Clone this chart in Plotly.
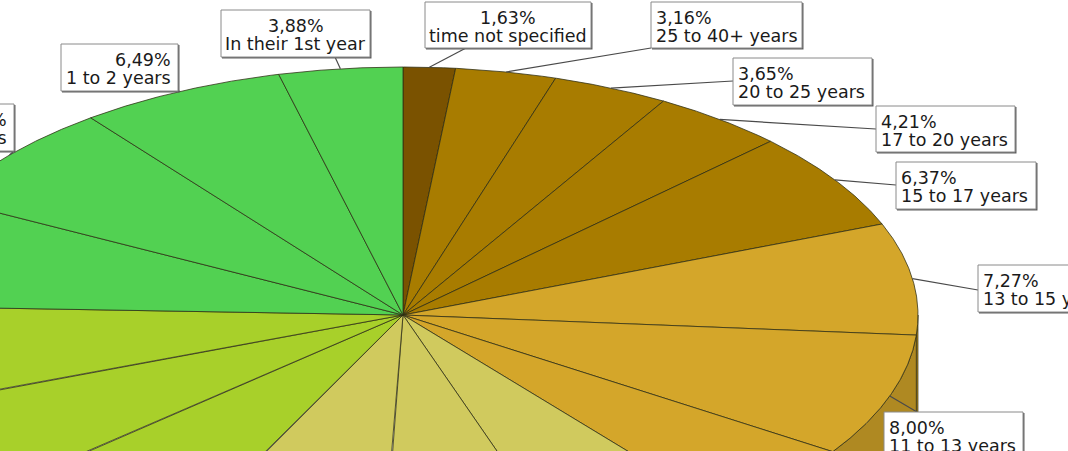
import numpy as np
import plotly.graph_objects as go

# Share of respondents by time spent in the country (clockwise from 12 o'clock)
categories = [
    "time not specified", "25 to 40+ years", "20 to 25 years", "17 to 20 years",
    "15 to 17 years", "13 to 15 years", "11 to 13 years", "10 to 11 years",
    "9 to 10 years", "8 to 9 years", "7 to 8 years", "6 to 7 years",
    "5 to 6 years", "4 to 5 years", "3 to 4 years", "2 to 3 years",
    "1 to 2 years", "In their 1st year",
]
values = [1.63, 3.16, 3.65, 4.21, 6.37, 7.27, 8.00, 5.02, 5.58, 5.69,
          6.56, 6.19, 5.81, 6.42, 7.13, 6.94, 6.49, 3.88]
colors = ["#7a5200", "#a87c00", "#a87c00", "#a87c00", "#a87c00",
          "#d4a62a", "#d4a62a", "#d4a62a",
          "#d0ca5e", "#d0ca5e", "#d0ca5e",
          "#a8d02a", "#a8d02a", "#a8d02a",
          "#52d152", "#52d152", "#52d152", "#52d152"]

# ---- page geometry (pixels) ----
W, H = 1068, 451
CX, CY = 403, 315        # pie centre
RX, RY = 515, 248        # on-screen radii of the tilted pie
DEPTH = 100              # thickness of the pie's side wall


def px_x(p):
    return (p - CX) / RX


def px_y(p):
    return (CY - p) / RY


def darker(hex_color, f=0.83):
    h = hex_color.lstrip("#")
    r, g, b = (int(h[i:i + 2], 16) for i in (0, 2, 4))
    return "rgb(%d,%d,%d)" % (r * f, g * f, b * f)


# ---- slice angles (radians, clockwise from the top) ----
vals = np.array(values, dtype=float)
frac = vals / vals.sum()
ends = np.cumsum(frac) * 2 * np.pi
starts = ends - frac * 2 * np.pi
depth_u = DEPTH / RY

fig = go.Figure()
edge = "rgba(45,45,20,0.85)"

# side wall (front half of the pie only)
for a0, a1, c in zip(starts, ends, colors):
    lo, hi = max(a0, np.pi / 2), min(a1, 3 * np.pi / 2)
    if lo >= hi:
        continue
    t = np.linspace(lo, hi, 80)
    xs = np.concatenate([np.sin(t), np.sin(t[::-1])])
    ys = np.concatenate([np.cos(t), np.cos(t[::-1]) - depth_u])
    fig.add_trace(go.Scatter(x=np.append(xs, xs[0]), y=np.append(ys, ys[0]),
                             mode="lines", fill="toself", fillcolor=darker(c),
                             line=dict(color=edge, width=0.8),
                             hoverinfo="skip", showlegend=False))

# top face of each slice
for name, v, a0, a1, c in zip(categories, values, starts, ends, colors):
    t = np.linspace(a0, a1, 120)
    xs = np.concatenate([[0], np.sin(t), [0]])
    ys = np.concatenate([[0], np.cos(t), [0]])
    fig.add_trace(go.Scatter(x=xs, y=ys, mode="lines", fill="toself",
                             fillcolor=c, line=dict(color=edge, width=0.9),
                             name=name, hovertemplate=f"{name}: {v:.2f}%<extra></extra>",
                             showlegend=False))

# ---- label boxes: [x0, y0, x1, y1] in pixels, text alignment, leader attach point ----
boxes = {
    "In their 1st year": ([221, 10, 370, 57], "center", (335, 57)),
    "time not specified": ([425, 2, 591, 48], "center", (466, 48)),
    "25 to 40+ years": ([651, 2, 802, 48], "left", (651, 48)),
    "20 to 25 years": ([733, 58, 872, 105], "left", (733, 81)),
    "17 to 20 years": ([876, 106, 1015, 152], "left", (876, 129)),
    "15 to 17 years": ([896, 162, 1036, 209], "left", (896, 185)),
    "13 to 15 years": ([978, 265, 1090, 312], "left", (978, 290)),
    "11 to 13 years": ([884, 412, 1023, 470], "left", (917, 412)),
    "1 to 2 years": ([61, 44, 178, 91], "right", (178, 91)),
    "2 to 3 years": ([-110, 104, 14, 151], "right", (14, 151)),
}

shapes, annotations = [], []
font = dict(family="DejaVu Sans", size=17.5, color="#1a1a1a")
for name, v, a0, a1 in zip(categories, values, starts, ends):
    if name not in boxes:
        continue
    (x0, y0, x1, y1), align, (ax_, ay_) = boxes[name]
    mid = (a0 + a1) / 2
    # leader line from the slice's rim to its box
    fig.add_trace(go.Scatter(x=[np.sin(mid), px_x(ax_)], y=[np.cos(mid), px_y(ay_)],
                             mode="lines", line=dict(color="#4a4a4a", width=1.2),
                             hoverinfo="skip", showlegend=False))
    # shadow + box
    shapes.append(dict(type="rect", xref="x", yref="y", layer="above",
                       x0=px_x(x0 + 1), x1=px_x(x1 + 1.5), y0=px_y(y0 + 1), y1=px_y(y1 + 1.5),
                       fillcolor="#606060", line=dict(width=0)))
    shapes.append(dict(type="rect", xref="x", yref="y", layer="above",
                       x0=px_x(x0), x1=px_x(x1), y0=px_y(y0), y1=px_y(y1),
                       fillcolor="white", line=dict(color="#8a8a8a", width=1)))
    pct = f"{v:.2f}".replace(".", ",") + "%"
    if align == "left":
        tx, xa = x0 + 3, "left"
    elif align == "right":
        tx, xa = x1 - 5, "right"
    else:
        tx, xa = (x0 + x1) / 2, "center"
    for line_txt, base in ((pct, y0 + 21.5), (name, y0 + 39.5)):
        annotations.append(dict(x=px_x(tx), y=px_y(base - 6), xref="x", yref="y",
                                text=line_txt, showarrow=False, xanchor=xa,
                                yanchor="middle", align=align, font=font))

fig.update_layout(
    width=W, height=H, autosize=False,
    margin=dict(l=0, r=0, t=0, b=0),
    paper_bgcolor="white", plot_bgcolor="white",
    xaxis=dict(range=[px_x(0), px_x(W)], visible=False, fixedrange=True),
    yaxis=dict(range=[px_y(H), px_y(0)], visible=False, fixedrange=True),
    shapes=shapes, annotations=annotations, showlegend=False,
)

fig.write_html("out.html")
